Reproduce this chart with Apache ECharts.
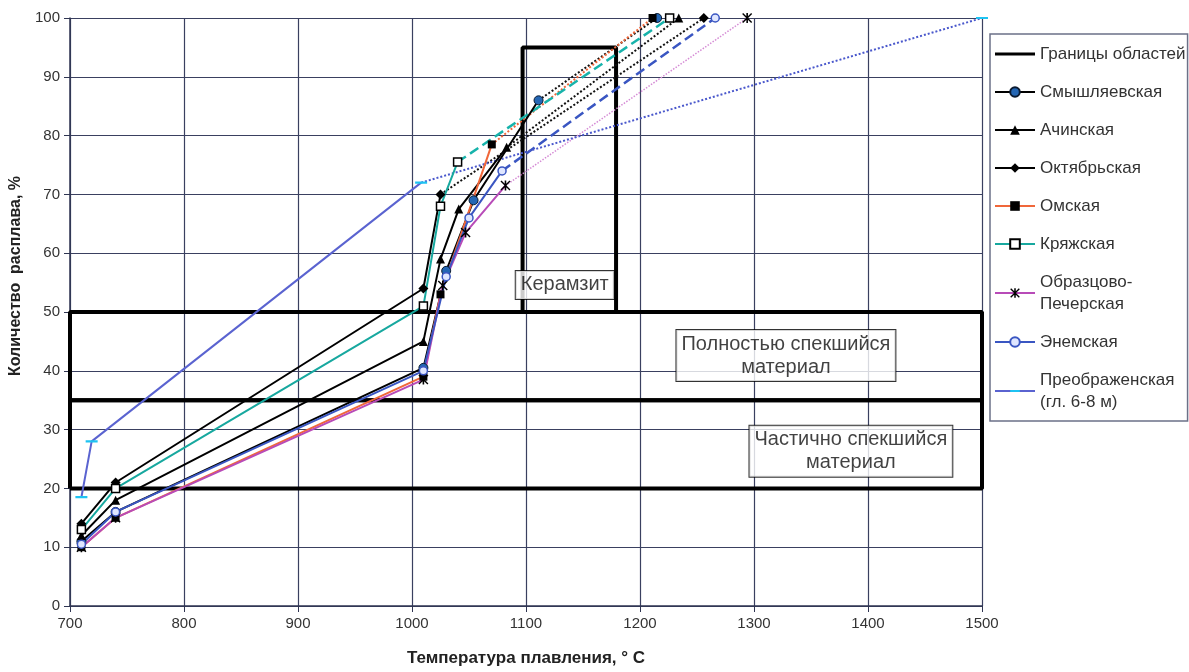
<!DOCTYPE html>
<html>
<head>
<meta charset="utf-8">
<script src="https://cdn.jsdelivr.net/npm/echarts@6/dist/echarts.min.js"></script>
<style>
  html, body { margin: 0; padding: 0; background: #fff; }
  #chart-container { width: 1189px; height: 672px; }
</style>
</head>
<body>
<div id="chart-container"></div>
<script>
var dom = document.getElementById('chart-container');
var myChart = echarts.init(dom, null, { renderer: 'canvas' });

// measured points [temperature, melt %]
var smyshlyaevskaya = [[710, 11], [740, 16], [1010, 40.5], [1030, 57], [1054, 69], [1111, 86]];
var achinskaya = [[710, 12], [740, 18], [1010, 45], [1025, 59], [1041, 67.5], [1083, 78]];
var oktyabrskaya = [[710, 14], [740, 21], [1010, 54], [1025, 70]];
var omskaya = [[710, 10], [740, 15], [1010, 39], [1025, 53], [1070, 78.5]];
var kryazhskaya = [[710, 13], [740, 20], [1010, 51], [1025, 68], [1040, 75.5]];
var obraztsovo = [[710, 10], [740, 15], [1010, 38.5], [1027, 54.5], [1047, 63.5], [1082, 71.5]];
var enemskaya = [[710, 10.5], [740, 16], [1010, 40], [1030, 56], [1050, 66], [1079, 74]];
var preobrazhenskaya = [[710, 18.5], [719, 28], [1008, 72]];

// extrapolated temperature of full melting (100 %)
var seriesNames = ['Смышляевская', 'Ачинская', 'Октябрьская', 'Омская', 'Кряжская',
  'Образцово-Печерская', 'Энемская', 'Преображенская (гл. 6-8 м)'];
var fullMeltTemp = [1215, 1234, 1256, 1211, 1226, 1294, 1266, 1500];

// zone boundaries
var ceramziteBox = [[1097, 50], [1097, 95], [1179, 95], [1179, 50]];
var fullSinterBox = [[700, 35], [1500, 35], [1500, 50], [700, 50], [700, 35]];
var partSinterBox = [[700, 20], [1500, 20], [1500, 35], [700, 35], [700, 20]];
var zoneLabels = ['Керамзит', 'Полностью спекшийся\nматериал', 'Частично спекшийся\nматериал'];
var zoneLabelAt = [[1134, 54.6], [1328, 42.6], [1385, 26.3]];

var measured = [smyshlyaevskaya, achinskaya, oktyabrskaya, omskaya, kryazhskaya, obraztsovo, enemskaya, preobrazhenskaya];

var starPath = 'path://M0,1 L1,0 L5,4 L9,0 L10,1 L6,5 L10,9 L9,10 L5,6 L1,10 L0,9 L4,5 Z M4.2,0 L5.8,0 L5.8,10 L4.2,10 Z';
// tiny corner specks keep the square box so the bars are not stretched
var barIcon = 'path://M0,0 L0.1,0 L0.1,0.1 Z M0,4.4 L40,4.4 L40,7.6 L0,7.6 Z M39.9,12 L40,12 L40,11.9 Z';
var dashSymbol = 'path://M0,0 L0.05,0 L0.05,0.05 Z M0,4.9 L12,4.9 L12,7.1 L0,7.1 Z M12,12 L11.95,12 L11.95,11.95 Z';

var styles = [
  { color: '#000', symbol: 'circle', size: 9, item: { color: '#2466b4', borderColor: '#0a1a30', borderWidth: 1 }, ext: { color: '#111', type: 'dotted', width: 2 } },
  { color: '#000', symbol: 'triangle', size: 9, item: { color: '#000' }, ext: { color: '#111', type: 'dotted', width: 2 } },
  { color: '#000', symbol: 'diamond', size: 10, item: { color: '#000' }, ext: { color: '#111', type: 'dotted', width: 2 } },
  { color: '#f0673a', symbol: 'rect', size: 8, item: { color: '#000' }, ext: { color: '#f0673a', type: 'dotted', width: 2 } },
  { color: '#17a89f', symbol: 'rect', size: 8, item: { color: '#fff', borderColor: '#000', borderWidth: 1.5 }, ext: { color: '#17b3ab', type: 'dashed', width: 2.5 } },
  { color: '#b84bb8', symbol: starPath, size: 10, item: { color: '#000' }, ext: { color: '#d58bd5', type: 'dotted', width: 1.5 } },
  { color: '#3a56c2', symbol: 'circle', size: 8, item: { color: '#dfe6ff', borderColor: '#3a56c2', borderWidth: 1.5 }, ext: { color: '#3a56c2', type: 'dashed', width: 2.5 } },
  { color: '#5a63d0', symbol: dashSymbol, size: 12, item: { color: '#1ec3f2' }, ext: { color: '#4a58cc', type: 'dotted', width: 2 } }
];

var series = [];
[ceramziteBox, fullSinterBox, partSinterBox].forEach(function (box) {
  series.push({
    name: 'Границы областей', type: 'line', data: box, symbol: 'none',
    lineStyle: { color: '#000', width: 4 }, itemStyle: { color: '#000' }, z: 3
  });
});

seriesNames.forEach(function (name, i) {
  var st = styles[i];
  series.push({
    name: name, type: 'line', data: measured[i],
    symbol: st.symbol, symbolSize: st.size,
    lineStyle: { color: st.color, width: 2 },
    itemStyle: st.item, z: 5
  });
  var last = measured[i][measured[i].length - 1];
  series.push({
    name: name + ' ', type: 'line',
    data: [{ value: last, symbol: 'none' }, [fullMeltTemp[i], 100]],
    symbol: st.symbol, symbolSize: st.size,
    lineStyle: st.ext, itemStyle: st.item, z: 4
  });
});

series.push({
  name: 'labels', type: 'scatter', symbolSize: 0, z: 6,
  data: zoneLabels.map(function (t, i) { return { name: t, value: zoneLabelAt[i] }; }),
  label: {
    show: true, position: 'inside', formatter: function (p) { return p.name; },
    fontFamily: 'Liberation Sans', fontSize: 20, color: '#111', lineHeight: 23, align: 'center',
    backgroundColor: '#fff', borderColor: '#000', borderWidth: 1, padding: [3, 5, 2, 5]
  }
});

var legendData = [{ name: 'Границы областей', icon: barIcon, itemStyle: { color: '#000' } }].concat(seriesNames);

var option = {
  animation: false,
  backgroundColor: '#fff',
  textStyle: { fontFamily: 'Liberation Sans' },
  grid: { left: 70, right: 207, top: 18, bottom: 66, outerBoundsMode: 'none', containLabel: false },
  legend: {
    data: legendData,
    orient: 'vertical', left: 990, top: 34,
    padding: [9, 2, 8, 4], itemGap: 16, itemWidth: 40, itemHeight: 12,
    borderColor: '#6b7088', borderWidth: 1.5,
    textStyle: { fontSize: 17, color: '#333', lineHeight: 22 },
    formatter: function (n) {
      return n.replace('Образцово-', 'Образцово-\n').replace(' (гл.', '\n(гл.');
    }
  },
  xAxis: {
    type: 'value', min: 700, max: 1500, interval: 100,
    name: 'Температура плавления, ° C', nameLocation: 'middle', nameGap: 44,
    nameTextStyle: { fontSize: 17, fontWeight: 'bold', color: '#222' },
    axisLine: { lineStyle: { color: '#2f3552', width: 1.5 } },
    axisTick: { show: true, length: 6, lineStyle: { color: '#2f3552' } },
    axisLabel: { fontSize: 15, color: '#333', margin: 10, formatter: function (v) { return String(v); } },
    splitLine: { lineStyle: { color: '#3a4060', width: 1.2 } }
  },
  yAxis: {
    type: 'value', min: 0, max: 100, interval: 10,
    name: 'Количество  расплава, %', nameLocation: 'middle', nameGap: 44,
    nameTextStyle: { fontSize: 16, fontWeight: 'bold', color: '#222', padding: [0, 0, 0, 72] },
    axisLine: { show: true, lineStyle: { color: '#2f3552', width: 1.5 } },
    axisTick: { show: true, length: 6, lineStyle: { color: '#2f3552' } },
    axisLabel: { fontSize: 15, color: '#333', margin: 10 },
    splitLine: { lineStyle: { color: '#3a4060', width: 1.2 } }
  },
  series: series
};

myChart.setOption(option);
window.addEventListener('resize', myChart.resize);
</script>
</body>
</html>
